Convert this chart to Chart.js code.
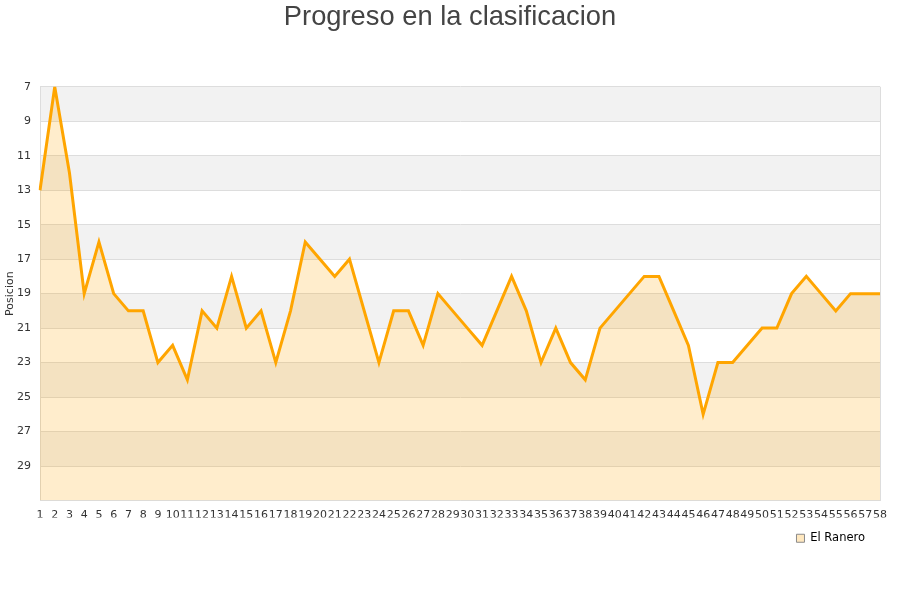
<!DOCTYPE html>
<html>
<head>
<meta charset="utf-8">
<title>Progreso en la clasificacion</title>
<script src="https://cdn.jsdelivr.net/npm/chart.js@4.4.0/dist/chart.umd.min.js"></script>
<style>
  html, body { margin: 0; padding: 0; background: #fff; }
  #wrap { width: 900px; height: 600px; }
</style>
</head>
<body>
<div id="wrap"><canvas id="myChart" width="900" height="600"></canvas></div>
<script>
// ===================== datos =====================
var jornadas = [];
for (var j = 1; j <= 58; j++) { jornadas.push(String(j)); }

var posiciones = [13, 7, 12, 19, 16, 19, 20, 20, 23, 22,
                  24, 20, 21, 18, 21, 20, 23, 20, 16, 17,
                  18, 17, 20, 23, 20, 20, 22, 19, 20, 21,
                  22, 20, 18, 20, 23, 21, 23, 24, 21, 20,
                  19, 18, 18, 20, 22, 26, 23, 23, 22, 21,
                  21, 19, 18, 19, 20, 19, 19, 19];

var equipo = "El Ranero";
var yMin = 7;
var yMax = 31;
var yPaso = 2;

// ===================== franjas grises de fondo =====================
var franjas = {
  id: 'franjas',
  beforeDraw: function(chart) {
    var ctx = chart.ctx;
    var area = chart.chartArea;
    var y = chart.scales.y;
    ctx.save();
    ctx.fillStyle = '#f2f2f2';
    for (var v = yMin; v < yMax; v += yPaso * 2) {
      var p1 = y.getPixelForValue(v);
      var p2 = y.getPixelForValue(Math.min(v + yPaso, yMax));
      ctx.fillRect(area.left, p1, area.right - area.left, p2 - p1);
    }
    // borde derecho del area
    ctx.strokeStyle = '#dddddd';
    ctx.lineWidth = 1;
    ctx.beginPath();
    ctx.moveTo(area.right + 0.5, area.top);
    ctx.lineTo(area.right + 0.5, area.bottom);
    ctx.stroke();
    ctx.restore();
  }
};

var grafica = new Chart(document.getElementById("myChart"), {
  type: "line",
  data: {
    labels: jornadas,
    datasets: [{
      label: equipo,
      data: posiciones,
      borderColor: "#ffa500",
      backgroundColor: "rgba(255, 165, 0, 0.2)",
      borderWidth: 3,
      pointRadius: 0,
      tension: 0,
      fill: { value: yMax }
    }]
  },
  options: {
    responsive: false,
    animation: false,
    layout: { padding: { left: 10, right: 10, top: 0, bottom: 46 } },
    plugins: {
      title: {
        display: true,
        text: "Progreso en la clasificacion",
        color: "#444",
        font: { family: "'Liberation Sans', Arial, sans-serif", size: 27.3, weight: 'normal' },
        padding: { top: 1, bottom: 53 }
      },
      legend: {
        display: true,
        position: 'bottom',
        align: 'end',
        fullSize: false,
        labels: {
          color: '#000',
          boxWidth: 8,
          boxHeight: 8,
          padding: 15,
          font: { family: "'DejaVu Sans', sans-serif", size: 11.5 },
          generateLabels: function(chart) {
            return [{
              text: equipo,
              fillStyle: 'rgba(255, 165, 0, 0.25)',
              strokeStyle: '#8a8a8a',
              lineWidth: 1,
              datasetIndex: 0
            }];
          }
        }
      },
      tooltip: { enabled: false }
    },
    scales: {
      x: {
        offset: false,
        grid: { display: false, drawTicks: false },
        border: { display: true, color: '#dddddd' },
        ticks: {
          autoSkip: false,
          maxRotation: 0,
          minRotation: 0,
          padding: 8,
          color: '#333',
          font: { family: "'DejaVu Sans', sans-serif", size: 11 }
        },
        afterFit: function(s) { s.height = 17; }
      },
      y: {
        reverse: true,
        min: yMin,
        max: yMax,
        grid: { color: '#dddddd', drawTicks: false },
        border: { display: true, color: '#dddddd' },
        ticks: {
          stepSize: yPaso,
          padding: 9,
          color: '#333',
          font: { family: "'DejaVu Sans', sans-serif", size: 11 },
          callback: function(v) { return v >= yMax ? '' : v; }
        },
        title: {
          display: true,
          text: 'Posicion',
          color: '#333',
          font: { family: "'DejaVu Sans', sans-serif", size: 11 },
          padding: { top: -6, bottom: 4 }
        },
        afterFit: function(s) { s.width = 30; }
      },
      // eje vacio a la derecha, solo deja margen
      y2: {
        position: 'right',
        display: true,
        grid: { display: false, drawTicks: false },
        border: { display: false },
        ticks: { display: false },
        afterFit: function(s) { s.width = 10; }
      }
    }
  },
  plugins: [franjas]
});
</script>
</body>
</html>
